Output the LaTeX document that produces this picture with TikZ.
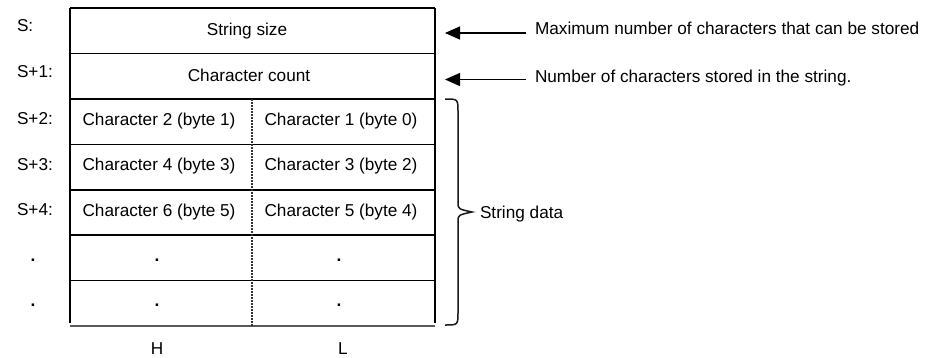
\documentclass[tikz,border=0pt]{standalone}
\usepackage{fontspec}
\setmainfont{Liberation Sans}
\usetikzlibrary{arrows.meta}
\begin{document}
\begin{tikzpicture}[x=1pt,y=-1pt,
  every node/.style={inner sep=0pt,outer sep=0pt,font=\fontsize{17.2pt}{20pt}\selectfont,text=black},
  tline/.style={line width=1.6pt,black},
  bline/.style={line width=2.2pt,black!65},
  divline/.style={line width=1.1pt,black!80,dash pattern=on 2pt off 1pt},
  arr/.style={line width=1.3pt,black,-{Triangle[length=15pt,width=13pt]}},
  bracepath/.style={line width=1.5pt,black!90},
  lbl/.style={anchor=base west},
  cell/.style={anchor=base},
  dotc/.style={anchor=base,font=\fontsize{17.2pt}{20pt}\selectfont\bfseries}]
\useasboundingbox (0,0) rectangle (925,357);
% table grid
\draw[tline] (70,8) -- (435,8);
\draw[tline] (70,8) -- (70,323);
\draw[tline] (435,8) -- (435,323);
\foreach \yy in {53.4,98.9,144.3,189.7,235.1,280.6}
  \draw[tline] (70,\yy) -- (435,\yy);
\draw[bline] (70,326) -- (435,326);
\draw[divline] (252,98.9) -- (252,326);
% row labels
\node[lbl] (lS)  at (17,31) {S:};
\node[lbl] (lS1) at (17,77) {S+1:};
\node[lbl] (lS2) at (17,124.5) {S+2:};
\node[lbl] (lS3) at (17,170) {S+3:};
\node[lbl] (lS4) at (17,215.5) {S+4:};
\node[dotc] (lD1) at (33,261) {.};
\node[dotc] (lD2) at (33,306.5) {.};
% cells
\node[cell] (size)  at (247,35) {String size};
\node[cell] (count) at (249,81.5) {Character count};
\node[cell] (c2) at (159,125.2) {Character 2 (byte 1)};
\node[cell] (c1) at (341,125.2) {Character 1 (byte 0)};
\node[cell] (c4) at (159,170.6) {Character 4 (byte 3)};
\node[cell] (c3) at (341,170.6) {Character 3 (byte 2)};
\node[cell] (c6) at (159,216) {Character 6 (byte 5)};
\node[cell] (c5) at (341,216) {Character 5 (byte 4)};
\node[dotc] (d1) at (157,261) {.};
\node[dotc] (d2) at (339,261) {.};
\node[dotc] (d3) at (157,306.5) {.};
\node[dotc] (d4) at (339,306.5) {.};
% H / L
\node[cell] (H) at (157,354) {H};
\node[cell] (L) at (343,354) {L};
% annotations
\node[lbl] (tmax) at (535,34.5) {Maximum number of characters that can be stored};
\node[lbl] (tnum) at (535,82) {Number of characters stored in the string.};
\coordinate (a1s) at (526,33);
\coordinate (a1e) at (445,33);
\coordinate (a2s) at (526,79.5);
\coordinate (a2e) at (445,79.5);
\draw[arr] (a1s) -- (a1e);
\draw[arr] (a2s) -- (a2e);
% brace
\draw[bracepath] (445,99) .. controls (458,99) .. (458,112) -- (458,202)
  .. controls (458,209) .. (472,212) .. controls (458,215) .. (458,222)
  -- (458,312) .. controls (458,325) .. (445,325);
\node[lbl] (sdata) at (480,218.5) {String data};
\end{tikzpicture}
\end{document}
